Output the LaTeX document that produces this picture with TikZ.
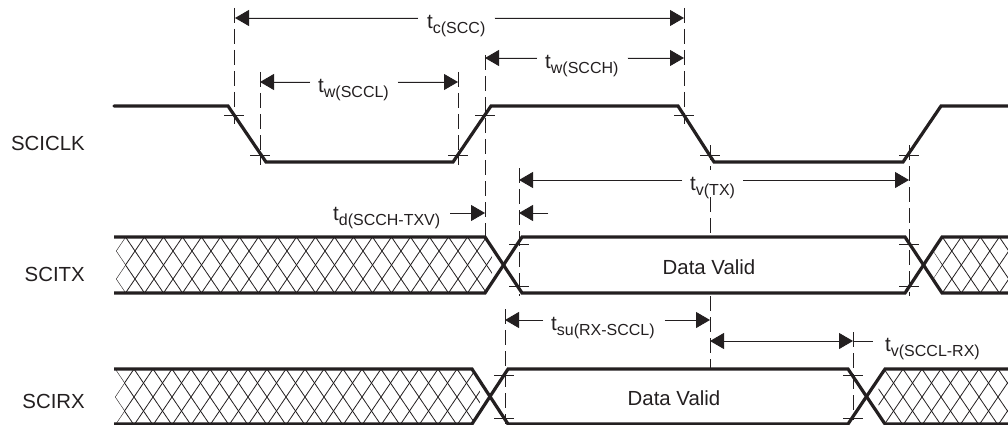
\documentclass[tikz,border=0pt]{standalone}
\usepackage{fontspec}
\setmainfont{Liberation Sans}
\usetikzlibrary{arrows.meta}
\definecolor{ink}{HTML}{231F20}
\newcommand{\tlab}[2]{\fontsize{20.5}{22}\selectfont t\raisebox{-5pt}{\fontsize{16}{18}\selectfont #1(#2)}}
% #1 clip path, #2 top y, #3 height, #4 lattice start x, #5 last index
\newcommand{\hatchband}[5]{%
  \begin{scope}
    \clip #1;
    \foreach \k in {-2,...,#5}{
      \pgfmathsetmacro{\xa}{#4+19*\k}
      \pgfmathsetmacro{\xb}{\xa+38}
      \pgfmathsetmacro{\xc}{\xa-38}
      \draw[hatchline] (\xa,#2) -- (\xb,#2+#3);
      \draw[hatchline] (\xa,#2) -- (\xc,#2+#3);
    }
  \end{scope}}
\tikzset{
  >={Triangle[length=14pt,width=16pt]},
  wave/.style={draw=ink,line width=3.2pt,line join=miter},
  hatchline/.style={draw=ink,line width=0.8pt},
  tick/.style={draw=ink,line width=0.8pt},
  guide/.style={draw=ink,line width=0.9pt,dash pattern=on 15pt off 6pt},
  dim/.style={draw=ink,fill=ink,line width=0.9pt,->},
  dimboth/.style={draw=ink,fill=ink,line width=0.9pt,<->},
  stub/.style={draw=ink,line width=0.9pt},
  lab/.style={text=ink,inner sep=0pt,font=\fontsize{20.4}{24}\selectfont},
  tl/.style={text=ink,inner sep=0pt,anchor=west},
}
\begin{document}
\begin{tikzpicture}[x=1pt,y=-1pt]
\useasboundingbox (0,0) rectangle (1008,425);
% hatching
\hatchband{(125.5,237)--(116,251)--(125.5,265)--(116,279)--(125.5,293)--(485,293)--(495,265)--(485,237)--cycle}{237}{56}{125.5}{20}
\hatchband{(942,237)--(933,251)--(942,265)--(933,279)--(942,293)--(1008,293)--(1008,237)--cycle}{237}{56}{942.3}{5}
\hatchband{(115,369)--(124.5,383)--(115,397)--(124.5,411)--(115,425)--(472,425)--(482,397)--(472,369)--cycle}{369}{56}{115}{20}
\hatchband{(885,369)--(876,397)--(885,425)--(1008,425)--(1008,369)--cycle}{369}{56}{884}{8}
% guides
\draw[guide] (234,8) -- (234,124);
\draw[guide] (260,72) -- (260,165);
\draw[guide] (458,72) -- (458,165);
\draw[guide] (485,55) -- (485,237);
\draw[guide] (684,8) -- (684,124);
\draw[guide] (710,145) -- (710,170);
\draw[guide] (710,197) -- (710,237);
\draw[guide] (710,296) -- (710,369);
\draw[guide] (519,168) -- (519,296);
\draw[guide] (909,145) -- (909,296);
\draw[guide] (505,309) -- (505,424);
\draw[guide] (853,332) -- (853,420);
% waveforms
\draw[wave,line cap=round] (114,106) -- (228,106) -- (266,162) -- (453,162) -- (491,106) -- (678,106) -- (714,162) -- (903,162) -- (941,106) -- (1008,106);
\draw[wave] (114,237) -- (485,237) -- (522,293) -- (905,293) -- (942,237) -- (1008,237);
\draw[wave] (114,293) -- (485,293) -- (522,237) -- (905,237) -- (942,293) -- (1008,293);
\draw[wave] (114,369) -- (472,369) -- (508,424) -- (848,424) -- (885,369) -- (1008,369);
\draw[wave] (114,424) -- (472,424) -- (508,369) -- (848,369) -- (885,424) -- (1008,424);
% ticks
\foreach \x/\y in {234/115,260/155,458/155,485/115,684/115,710/155,909/155,519/244,519/286,909/244,909/286,504/375,504/418,853/375,853/418}{
  \draw[tick] (\x-10,\y) -- (\x+10,\y);
}
% labels
\node[lab,anchor=east] (sciclk) at (85,143) {SCICLK};
\node[lab,anchor=east] (scitx) at (85,274) {SCITX};
\node[lab,anchor=east] (scirx) at (85,401) {SCIRX};
\node[lab] (dv1) at (709,267) {Data Valid};
\node[lab] (dv2) at (674,398) {Data Valid};
\node[tl] (tc) at (427,26) {\tlab{c}{SCC}};
\node[tl] (twl) at (318,90) {\tlab{w}{SCCL}};
\node[tl] (twh) at (545,66) {\tlab{w}{SCCH}};
\node[tl] (tvtx) at (690,188) {\tlab{v}{TX}};
\node[tl] (tdv) at (333,218) {\tlab{d}{SCCH-TXV}};
\node[tl] (tsu) at (551,328) {\tlab{su}{RX-SCCL}};
\node[tl] (tvrx) at (885,349) {\tlab{v}{SCCL-RX}};
% dimension coordinates
\coordinate (c1) at (235,18); \coordinate (c2) at (684,18);
\coordinate (wl1) at (260,82); \coordinate (wl2) at (458,82);
\coordinate (wh1) at (485,58); \coordinate (wh2) at (684,58);
\coordinate (v1) at (519,180); \coordinate (v2) at (909,180);
\coordinate (d1) at (450,213); \coordinate (d2) at (485,213);
\coordinate (d3) at (548,213); \coordinate (d4) at (519,213);
\coordinate (s1) at (505,320); \coordinate (s2) at (710,320);
\coordinate (r1) at (710,341); \coordinate (r2) at (853,341); \coordinate (r3) at (873,341);
% dimensions
\draw[dim] ([xshift=-9pt]tc.west |- c1) -- (c1);
\draw[dim] ([xshift=9pt]tc.east |- c2) -- (c2);
\draw[dim] ([xshift=-8pt]twl.west |- wl1) -- (wl1);
\draw[dim] ([xshift=9pt]twl.east |- wl2) -- (wl2);
\draw[dim] ([xshift=-8pt]twh.west |- wh1) -- (wh1);
\draw[dim] ([xshift=9pt]twh.east |- wh2) -- (wh2);
\draw[dim] ([xshift=-8pt]tvtx.west |- v1) -- (v1);
\draw[dim] ([xshift=8pt]tvtx.east |- v2) -- (v2);
\draw[dim] (d1) -- (d2);
\draw[dim] (d3) -- (d4);
\draw[dim] ([xshift=-8pt]tsu.west |- s1) -- (s1);
\draw[dim] ([xshift=10pt]tsu.east |- s2) -- (s2);
\draw[dimboth] (r1) -- (r2);
\draw[stub] (r2) -- (r3);
\end{tikzpicture}
\end{document}
